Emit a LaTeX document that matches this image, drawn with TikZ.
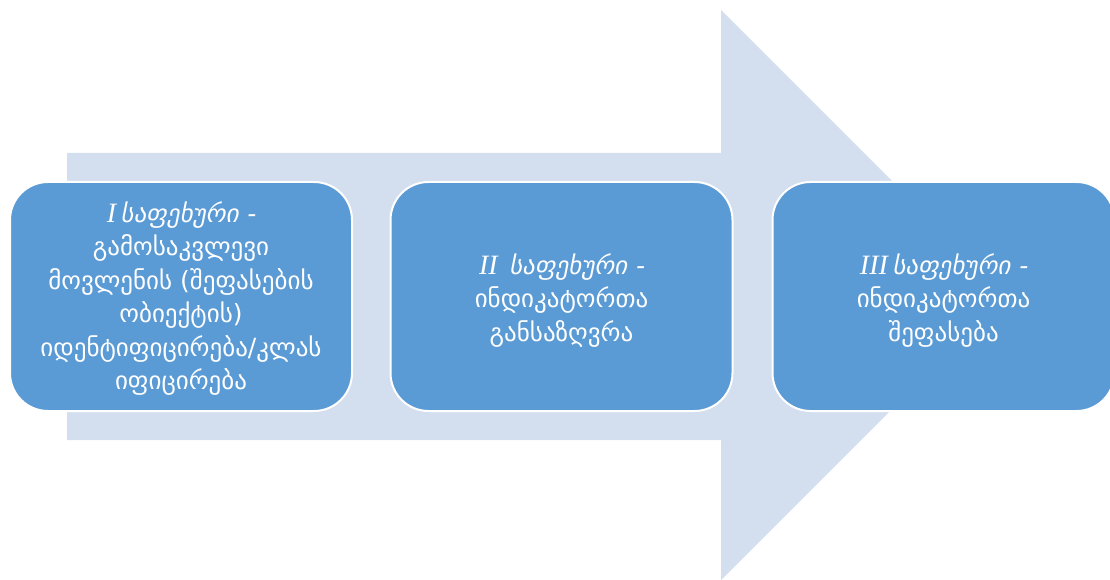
\documentclass[tikz,border=0pt]{standalone}
\usepackage{fontspec}
\setmainfont{DejaVu Sans}
\newfontfamily\geoit[FakeSlant=0.2]{DejaVu Sans}
\newfontfamily\numit{Liberation Serif}
\definecolor{arrowfill}{RGB}{211,222,239}
\definecolor{boxfill}{RGB}{91,155,213}
\newcommand{\stagehead}[1]{{\numit\itshape\fontsize{28}{33.5}\selectfont #1}\,{\geoit საფეხური -}}
\begin{document}
\begin{tikzpicture}[x=1pt,y=-1pt,
  stagebox/.style={draw=white, line width=2pt, fill=boxfill, rounded corners=38pt,
    minimum width=342pt, minimum height=229pt, inner sep=0pt},
  stagetext/.style={text=white, align=center,
    font=\fontsize{25}{33.5}\selectfont, inner sep=0pt}]
\useasboundingbox (0,0) rectangle (1110,580);
\fill[arrowfill] (67,153) -- (721,153) -- (721,10) -- (1006,295) -- (721,580)
  -- (721,440) -- (67,440) -- cycle;
\node[stagebox] (s1) at (181,296.5) {};
\node[stagebox] (s2) at (561.5,296.5) {};
\node[stagebox] (s3) at (943.5,296.5) {};
\node[stagetext] (t1) at ([yshift=-2pt]s1.center) {\stagehead{I}\\გამოსაკვლევი\\მოვლენის (შეფასების\\ობიექტის)\\იდენტიფიცირება/კლას\\იფიცირება};
\node[stagetext] (t2) at ([yshift=-4pt]s2.center) {\stagehead{II\ }\\ინდიკატორთა\\განსაზღვრა};
\node[stagetext] (t3) at ([yshift=-4pt]s3.center) {\stagehead{III}\\ინდიკატორთა\\შეფასება};
\end{tikzpicture}
\end{document}
